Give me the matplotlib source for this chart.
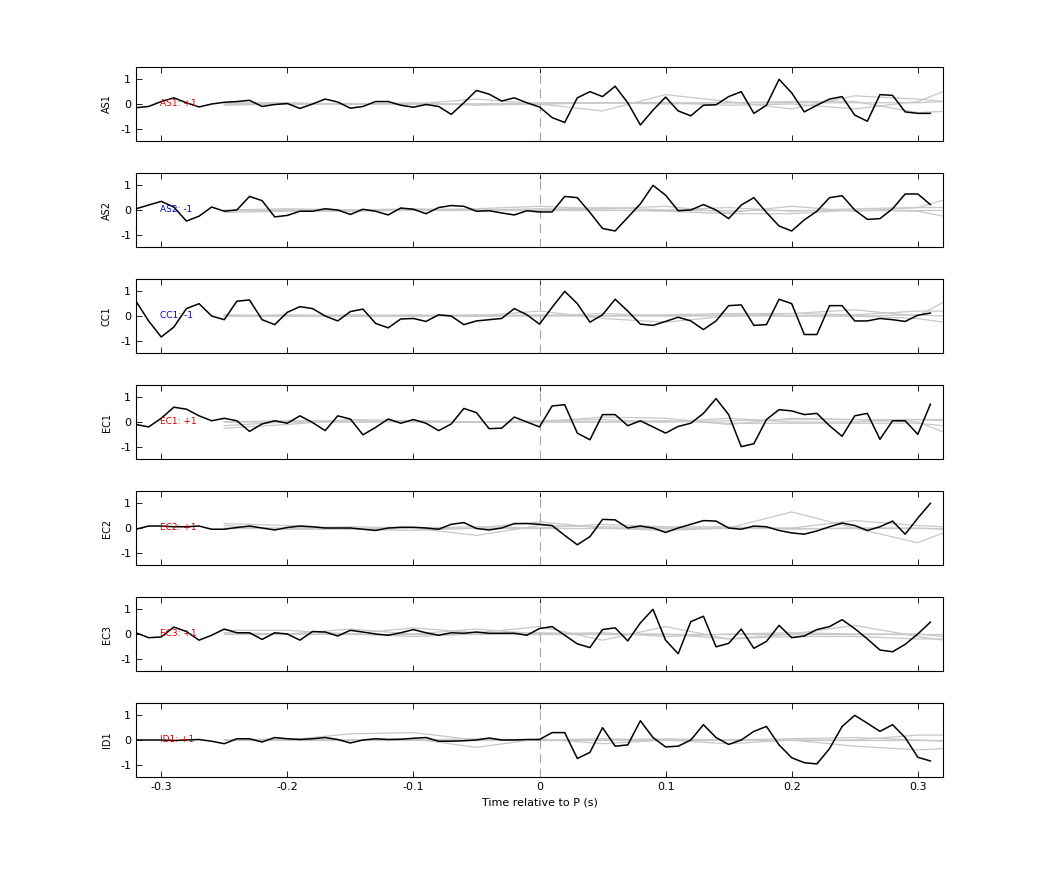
import numpy as np
import matplotlib
matplotlib.use("Agg")
import matplotlib.pyplot as plt

channels = ["AS1", "AS2", "CC1", "EC1", "EC2", "EC3", "ID1"]
labels = ["AS1: +1", "AS2: -1", "CC1: -1", "EC1: +1", "EC2: +1", "EC3: +1", "ID1: +1"]
label_colors = ["#d00000", "#0000c0", "#0000c0", "#d00000", "#d00000", "#d00000", "#d00000"]

t = np.round(np.arange(-0.32, 0.315, 0.01), 2)
t_gray = [-0.25, -0.2, -0.15, -0.1, -0.05, 0.0, 0.05, 0.1, 0.15, 0.2, 0.25, 0.3, 0.32]

AS1 = [-0.15,-0.1,0.1,0.25,0.05,-0.12,0.0,0.07,0.1,0.15,-0.1,-0.02,0.02,-0.18,0.0,0.2,0.08,-0.17,-0.1,0.1,
       0.1,-0.05,-0.13,-0.02,-0.1,-0.42,0.05,0.55,0.4,0.12,0.25,0.05,-0.12,-0.55,-0.75,0.25,0.5,0.3,0.72,0.05,
       -0.85,-0.25,0.28,-0.28,-0.48,-0.05,-0.03,0.3,0.5,-0.38,-0.05,1.0,0.45,-0.32,-0.05,0.2,0.3,-0.45,-0.7,0.38,
       0.35,-0.32,-0.38,-0.38]
AS2 = [0.05,0.2,0.35,0.12,-0.45,-0.25,0.12,-0.05,0.0,0.55,0.38,-0.28,-0.22,-0.05,-0.05,0.05,0.0,-0.18,0.03,-0.05,
       -0.2,0.08,0.03,-0.15,0.1,0.18,0.15,-0.05,-0.03,-0.12,-0.2,-0.03,-0.08,-0.08,0.55,0.5,-0.1,-0.75,-0.85,-0.3,
       0.25,1.0,0.6,-0.03,0.0,0.22,0.0,-0.35,0.2,0.5,-0.1,-0.65,-0.85,-0.4,-0.05,0.5,0.58,0.0,-0.38,-0.35,
       0.05,0.65,0.65,0.22]
CC1 = [0.6,-0.2,-0.85,-0.45,0.3,0.5,0.0,-0.15,0.6,0.65,-0.15,-0.35,0.15,0.38,0.3,0.0,-0.2,0.18,0.28,-0.3,
       -0.48,-0.12,-0.1,-0.22,0.05,0.0,-0.35,-0.2,-0.15,-0.1,0.3,0.05,-0.33,0.35,1.0,0.5,-0.25,0.05,0.68,0.2,
       -0.33,-0.38,-0.22,-0.05,-0.2,-0.55,-0.2,0.42,0.45,-0.38,-0.35,0.68,0.5,-0.75,-0.75,0.42,0.42,-0.2,-0.2,-0.1,
       -0.15,-0.22,0.03,0.12]
EC1 = [-0.1,-0.2,0.15,0.6,0.52,0.25,0.05,0.15,0.05,-0.38,-0.08,0.05,-0.05,0.25,-0.02,-0.35,0.25,0.12,-0.52,-0.22,
       0.12,-0.05,0.1,-0.05,-0.35,-0.08,0.55,0.38,-0.27,-0.25,0.2,0.0,-0.2,0.65,0.7,-0.45,-0.72,0.3,0.3,-0.15,
       0.05,-0.2,-0.45,-0.18,-0.05,0.35,0.95,0.3,-1.0,-0.88,0.1,0.5,0.45,0.3,0.35,-0.15,-0.58,0.25,0.35,-0.7,
       0.05,0.05,-0.5,0.72]
EC2 = [-0.05,0.08,0.08,0.05,0.05,0.08,-0.05,-0.05,0.02,0.08,0.0,-0.08,0.02,0.08,0.05,0.0,0.0,0.0,-0.05,-0.1,
       0.0,0.03,0.03,0.0,-0.05,0.15,0.22,-0.02,-0.08,0.0,0.18,0.18,0.15,0.1,-0.3,-0.68,-0.35,0.35,0.33,0.0,
       0.08,0.0,-0.18,0.0,0.15,0.3,0.28,0.0,-0.05,0.08,0.05,-0.1,-0.2,-0.25,-0.12,0.05,0.2,0.1,-0.1,0.05,
       0.28,-0.25,0.4,1.0]
EC3 = [0.05,-0.15,-0.12,0.28,0.1,-0.25,-0.05,0.2,0.05,0.05,-0.22,0.05,0.0,-0.25,0.1,0.08,-0.08,0.15,0.08,0.0,
       -0.05,0.05,0.18,0.05,-0.05,0.05,0.03,0.08,0.03,0.03,0.03,-0.05,0.22,0.3,-0.05,-0.4,-0.55,0.18,0.25,-0.28,
       0.45,1.0,-0.25,-0.8,0.5,0.72,-0.52,-0.38,0.2,-0.58,-0.3,0.35,-0.15,-0.08,0.18,0.3,0.58,0.22,-0.2,-0.65,
       -0.72,-0.42,0.0,0.48]
ID1 = [0.0,0.0,0.0,-0.02,0.0,0.02,-0.05,-0.15,0.05,0.05,-0.08,0.1,0.05,0.02,0.05,0.1,0.02,-0.12,0.0,0.05,
       0.02,0.03,0.07,0.1,-0.05,-0.05,-0.03,0.0,0.08,0.0,0.0,0.02,0.02,0.3,0.3,-0.75,-0.5,0.5,-0.25,-0.2,
       0.78,0.1,-0.28,-0.25,0.0,0.62,0.1,-0.18,0.0,0.35,0.55,-0.2,-0.72,-0.92,-0.97,-0.35,0.55,1.0,0.68,0.35,
       0.62,0.1,-0.7,-0.85]
black = [AS1, AS2, CC1, EC1, EC2, EC3, ID1]

gray = [
    [[0.0,0.0,0.02,0.0,0.2,0.0,-0.28,0.38,0.1,-0.2,0.33,0.2,0.1],
     [-0.05,0.0,0.0,0.0,0.0,0.0,0.05,0.05,-0.05,0.0,-0.2,0.1,0.5],
     [0.05,0.05,0.0,0.05,-0.05,0.0,0.05,0.0,0.05,0.1,0.1,-0.35,-0.3],
     [0.0,0.0,0.0,0.0,0.0,0.05,0.05,0.05,0.05,0.05,0.05,0.05,0.1]],
    [[0.0,0.0,0.0,0.0,0.05,0.15,0.05,0.15,-0.1,0.15,-0.05,0.1,0.4],
     [-0.1,-0.05,-0.05,0.0,0.0,0.05,0.0,-0.05,-0.15,-0.15,0.0,-0.05,-0.25],
     [0.0,0.05,0.0,0.05,0.0,0.0,0.1,0.0,0.1,-0.05,0.05,0.1,0.1],
     [0.0,0.0,0.0,0.0,0.0,0.0,0.0,0.0,0.0,0.0,0.0,0.0,0.0]],
    [[0.0,0.05,0.0,0.05,0.0,0.2,-0.1,-0.25,0.0,0.1,0.25,0.0,0.55],
     [0.0,0.0,0.05,0.0,0.05,0.0,0.1,0.0,0.05,0.0,0.0,-0.1,-0.25],
     [0.05,0.0,0.0,0.0,0.0,0.05,0.0,0.05,0.1,0.1,0.05,0.2,0.2],
     [0.0,0.0,0.0,0.0,0.0,0.0,0.0,0.0,0.0,0.0,0.0,0.05,0.0]],
    [[-0.25,-0.1,0.1,0.05,0.0,0.0,0.2,0.15,-0.1,0.15,0.1,0.0,-0.4],
     [-0.15,0.0,0.0,0.05,0.0,0.05,0.1,0.0,0.15,0.0,0.0,0.1,0.05],
     [0.0,0.05,0.05,0.0,0.0,0.0,0.0,0.05,-0.05,-0.05,-0.05,-0.05,-0.15],
     [0.0,0.0,0.0,0.0,0.0,0.0,0.0,0.0,0.05,0.1,0.1,0.1,0.1]],
    [[0.18,0.1,-0.05,0.0,-0.3,0.1,0.05,0.0,0.0,0.65,0.0,-0.6,-0.2],
     [0.1,-0.05,-0.05,-0.1,0.0,0.25,0.0,-0.1,0.0,0.0,0.3,0.1,0.05],
     [0.0,0.0,0.05,0.0,0.05,0.0,0.15,0.05,0.05,-0.05,0.0,0.0,-0.05],
     [0.0,0.0,0.0,0.0,0.0,0.0,0.0,0.0,0.0,0.0,0.0,0.0,0.0]],
    [[0.15,0.15,0.0,0.25,0.05,0.3,-0.25,0.3,-0.2,0.0,0.35,-0.1,-0.25],
     [0.0,0.0,0.2,0.0,0.2,0.0,0.05,-0.1,0.0,0.05,0.0,0.0,-0.1],
     [0.05,0.0,0.0,-0.1,0.0,0.05,0.0,0.0,-0.2,-0.1,-0.1,-0.2,-0.2],
     [0.0,0.0,0.0,0.0,0.0,0.0,0.0,0.0,0.0,0.0,0.0,0.0,0.0]],
    [[0.0,0.0,0.25,0.3,0.0,0.0,0.0,0.05,0.0,0.0,0.0,0.2,0.2],
     [0.0,0.0,0.0,0.05,-0.3,0.05,-0.15,0.0,-0.15,0.0,-0.25,-0.4,-0.35],
     [0.0,0.05,0.0,0.0,0.05,0.0,0.05,0.0,0.0,0.05,0.1,0.0,-0.05],
     [0.0,0.0,0.0,0.0,0.0,0.0,0.0,0.0,0.0,0.0,0.0,0.0,0.0]],
]

fig = plt.figure(figsize=(10.42, 8.75), dpi=100)
W, H = 1042, 875
left, right = 136 / W, 943 / W
for k, ch in enumerate(channels):
    top = 67 + 106 * k
    bottom = top + 74
    ax = fig.add_axes([left, 1 - bottom / H, right - left, 74 / H])
    for g in gray[k]:
        ax.plot(t_gray, g, color="#c8c8c8", lw=0.9, zorder=1)
    ax.axvline(0, color="#b0a0a0", lw=0.8, ls=(0, (8, 5)), zorder=2)
    ax.plot(t, black[k], color="black", lw=1.1, zorder=3)
    ax.text(-0.301, 0, labels[k], color=label_colors[k], fontsize=6.5, va="center", ha="left", zorder=4)
    ax.set_xlim(-0.32, 0.32)
    ax.set_ylim(-1.5, 1.5)
    ax.set_yticks([-1, 0, 1])
    ax.set_yticklabels(["-1", "0", "1"])
    ax.set_xticks([-0.3, -0.2, -0.1, 0, 0.1, 0.2, 0.3])
    ax.tick_params(direction="in", top=True, right=False, labelsize=8, length=4, width=0.6)
    ax.set_ylabel(ch, fontsize=7, labelpad=6)
    for s in ax.spines.values():
        s.set_linewidth(0.8)
    if k < len(channels) - 1:
        ax.set_xticklabels([])
    else:
        ax.set_xticklabels(["-0.3", "-0.2", "-0.1", "0", "0.1", "0.2", "0.3"])
        ax.set_xlabel("Time relative to P (s)", fontsize=8)

fig.savefig("out.png", dpi=100)
